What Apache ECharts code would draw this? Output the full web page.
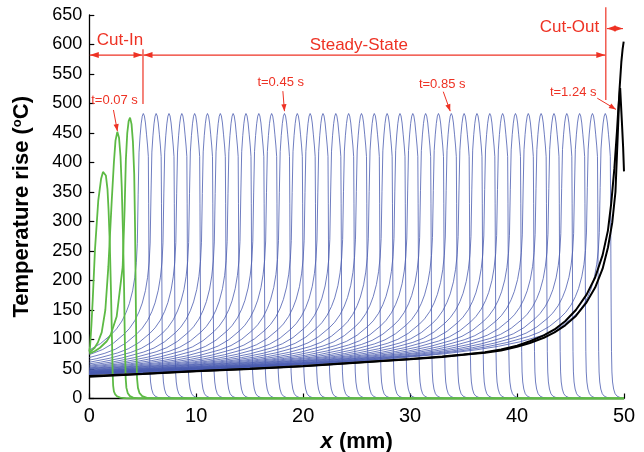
<!DOCTYPE html>
<html><head><meta charset="utf-8">
<script src="https://cdn.jsdelivr.net/npm/echarts@6/dist/echarts.min.js"></script>
<style>html,body{margin:0;padding:0;background:#fff}#c{width:644px;height:452px}</style>
</head><body><div id="c"></div>
<script>
// ---------- data ----------
const xTicks = [0, 10, 20, 30, 40, 50];
const yTicks = [0, 50, 100, 150, 200, 250, 300, 350, 400, 450, 500, 550, 600, 650];

// steady-state profiles: peak positions (mm)
const bluePeaks = [5.05, 6.25, 7.45, 8.65, 9.85, 11.05, 12.25, 13.45, 14.65, 15.85, 17.05, 18.25, 19.45, 20.65, 21.85, 23.05, 24.25, 25.45, 26.65, 27.85, 29.05, 30.25, 31.45, 32.65, 33.85, 35.05, 36.25, 37.45, 38.65, 39.85, 41.05, 42.25, 43.45, 44.65, 45.85, 47.05, 48.25];
// steady-state profile behind the peak: distance (mm) and excess temperature
const behindDist   = [0, 0.1, 0.2, 0.3, 0.4, 0.48, 0.56, 0.65, 0.8, 1.0, 1.3, 1.6, 2.0, 2.5, 3.0, 4.0, 5.0, 6.0, 8.0, 10, 12, 15, 20, 25, 30, 35, 40, 45, 50];
const behindExcess = [483, 478, 464, 442, 412, 335, 245, 210, 182, 158, 135, 119, 103, 89, 79, 63, 52, 45, 35.5, 29, 24.5, 20, 15.5, 12.8, 11, 9.7, 8.7, 7.9, 7.3];
// steady-state profile ahead of the peak
const aheadDist = [0.1, 0.2, 0.3, 0.4, 0.47, 0.5, 0.52, 0.55, 0.58, 0.62, 0.68, 0.78, 0.92, 1.1, 1.4, 1.8];
const aheadTemp = [479, 467, 448, 428, 410, 330, 250, 150, 80, 45, 28, 16, 8, 4, 1.5, 0];
// background trail left in the plate
const trailX    = [0, 10, 20, 30, 40, 50];
const trailTemp = [34, 40, 47, 55, 65, 76];

// cut-in profiles
const cutIn1X = [0, 0.07, 0.2, 0.32, 0.53, 0.84, 1.1, 1.28, 1.4, 1.55, 1.7, 1.8, 1.92, 2.03, 2.12, 2.18, 2.23, 2.3, 2.42, 2.6, 2.9, 3.4, 4.0, 50];
const cutIn1T = [80, 88, 125, 167, 252, 336, 372, 384, 386, 378, 355, 320, 260, 180, 100, 45, 22, 12, 7, 3.5, 1.5, 0.4, 0, 0];
const cutIn2X = [0, 0.5, 0.8, 1.16, 1.5, 1.78, 2.1, 2.3, 2.45, 2.62, 2.78, 2.92, 3.03, 3.15, 3.25, 3.33, 3.4, 3.47, 3.6, 3.8, 4.1, 4.6, 5.2, 50];
const cutIn2T = [78, 86, 95, 112, 150, 223, 336, 400, 437, 452, 442, 410, 360, 280, 190, 90, 35, 18, 9, 4, 1.5, 0.3, 0, 0];
const cutIn3X = [0, 0.5, 1.0, 1.63, 2.0, 2.56, 3.12, 3.3, 3.42, 3.55, 3.68, 3.81, 3.95, 4.08, 4.2, 4.28, 4.34, 4.4, 4.46, 4.55, 4.7, 4.95, 5.4, 6.0, 50];
const cutIn3T = [76, 80, 86, 97, 108, 139, 223, 320, 405, 450, 470, 476, 465, 435, 380, 290, 180, 80, 35, 18, 9, 4, 1.2, 0, 0];

// cut-out profiles
const cutOut1X = [0, 5, 10, 15, 20, 25, 30, 33, 35, 37, 38.5, 40, 41.2, 42.5, 43.5, 44.5, 45.5, 46.5, 47.3, 48, 48.5, 48.8, 49.1, 49.35, 49.5, 49.64, 49.8, 49.92, 50];
const cutOut1T = [38, 42, 46.5, 50.5, 55, 61, 67, 71, 74.5, 78.5, 83, 89.5, 97, 107, 117, 131, 150, 176, 205, 243, 285, 330, 390, 455, 500, 526, 470, 425, 385];
const cutOut2X = [0, 5, 10, 15, 20, 25, 30, 33, 35, 37, 38.5, 40, 41.2, 42.5, 43.5, 44.5, 45.5, 46.5, 47.3, 48, 48.5, 48.9, 49.2, 49.4, 49.58, 49.75, 49.87, 49.97];
const cutOut2T = [37, 41.5, 46, 50, 54.5, 60.5, 66.5, 70.5, 74, 77.5, 81.5, 87.5, 94, 103, 112, 124, 140, 163, 188, 220, 256, 298, 350, 440, 523, 570, 592, 605];

// ---------- helpers ----------
function lerp(xs, ys, x) {
  if (x <= xs[0]) return ys[0];
  for (let i = 1; i < xs.length; i++) {
    if (x <= xs[i]) { const t = (x - xs[i - 1]) / (xs[i] - xs[i - 1]); return ys[i - 1] + t * (ys[i] - ys[i - 1]); }
  }
  return ys[ys.length - 1];
}
function steadyCurve(xp) {
  const n0 = behindExcess[0];
  const temp = (x, d) => { const n = lerp(behindDist, behindExcess, d); return n + lerp(trailX, trailTemp, x) * (1 - n / n0); };
  const pts = [[0, temp(0, xp)]];
  for (let i = behindDist.length - 1; i >= 0; i--) {
    const x = xp - behindDist[i];
    if (x > 0) pts.push([x, temp(x, behindDist[i])]);
  }
  for (let i = 0; i < aheadDist.length; i++) {
    const x = xp + aheadDist[i];
    if (x <= 50) pts.push([x, aheadTemp[i]]);
  }
  pts.push([50, 0]);
  return pts;
}
const zip = (xs, ys) => xs.map((x, i) => [x, ys[i]]);

// ---------- chart ----------
const FONT = 'Liberation Sans, Arial, Helvetica, sans-serif';
const chart = echarts.init(document.getElementById('c'), null, { renderer: 'canvas' });
const series = [];
bluePeaks.forEach(xp => series.push({
  type: 'line', data: steadyCurve(xp), symbol: 'none', showSymbol: false, silent: true, z: 2,
  lineStyle: { color: '#4a5cb0', width: 0.8 }
}));
[[cutIn1X, cutIn1T], [cutIn2X, cutIn2T], [cutIn3X, cutIn3T]].forEach(([xs, ys]) => series.push({
  type: 'line', data: zip(xs, ys), symbol: 'none', showSymbol: false, silent: true, z: 3,
  lineStyle: { color: '#5dba45', width: 1.8 }
}));
[[cutOut1X, cutOut1T], [cutOut2X, cutOut2T]].forEach(([xs, ys]) => series.push({
  type: 'line', data: zip(xs, ys), symbol: 'none', showSymbol: false, silent: true, z: 4,
  lineStyle: { color: '#000000', width: 2 }
}));

chart.setOption({
  animation: false,
  backgroundColor: '#ffffff',
  grid: { left: 89.3, right: 20, top: 15, bottom: 53.5, containLabel: false, outerBoundsMode: 'none' },
  xAxis: {
    type: 'value', min: xTicks[0], max: xTicks[xTicks.length - 1], interval: xTicks[1] - xTicks[0],
    name: '{it|x} (mm)', nameLocation: 'middle', nameGap: 27,
    nameTextStyle: { fontFamily: FONT, fontSize: 22, fontWeight: 'bold', color: '#000',
      rich: { it: { fontFamily: FONT, fontSize: 22, fontWeight: 'bold', fontStyle: 'italic', color: '#000' } } },
    axisLine: { lineStyle: { color: '#000', width: 1.3 } },
    axisTick: { inside: true, length: 5, lineStyle: { color: '#000', width: 1.2 } },
    axisLabel: { fontFamily: FONT, fontSize: 20, color: '#000', margin: 8 },
    splitLine: { show: false }
  },
  yAxis: {
    type: 'value', min: yTicks[0], max: yTicks[yTicks.length - 1], interval: yTicks[1] - yTicks[0],
    name: 'Temperature rise ({sup|o}C)', nameLocation: 'middle', nameGap: 56,
    nameTextStyle: { fontFamily: FONT, fontSize: 22, fontWeight: 'bold', color: '#000',
      rich: { sup: { fontFamily: FONT, fontSize: 13, fontWeight: 'bold', color: '#000', verticalAlign: 'top', lineHeight: 22 } } },
    axisLine: { show: true, lineStyle: { color: '#000', width: 1.3 } },
    axisTick: { show: true, inside: true, length: 5, lineStyle: { color: '#000', width: 1.2 } },
    axisLabel: { fontFamily: FONT, fontSize: 18, color: '#000', margin: 7 },
    splitLine: { show: false }
  },
  series
});

// ---------- annotations ----------
const RED = '#ee3224';
const P = (x, y) => chart.convertToPixel({ gridIndex: 0 }, [x, y]);
const g = [];
function seg(a, b, w) { g.push({ type: 'line', shape: { x1: a[0], y1: a[1], x2: b[0], y2: b[1] }, style: { stroke: RED, lineWidth: w || 1.2 }, z: 100 }); }
function head(tip, from, len, half) {
  const dx = tip[0] - from[0], dy = tip[1] - from[1], L = Math.hypot(dx, dy) || 1;
  const ux = dx / L, uy = dy / L, bx = tip[0] - ux * len, by = tip[1] - uy * len;
  g.push({ type: 'polygon', shape: { points: [tip, [bx - uy * half, by + ux * half], [bx + uy * half, by - ux * half]] }, style: { fill: RED }, z: 100 });
}
function dbl(a, b) { seg(a, b); head(a, b, 9, 3); head(b, a, 9, 3); }
function arrow(a, b) { seg(a, b, 1); head(b, a, 7, 2.6); }
function label(p, txt, size) {
  g.push({ type: 'text', x: p[0], y: p[1], style: { text: txt, fill: RED, font: size + 'px ' + FONT, align: 'center', verticalAlign: 'middle' }, z: 100 });
}
const yA = 582;
const a0 = P(0, yA), a1 = P(5.02, yA), a2 = P(48.3, yA);
dbl([a0[0] + 0.5, a0[1]], [a1[0] - 0.5, a1[1]]);
dbl([a1[0] + 0.5, a1[1]], [a2[0] - 0.5, a2[1]]);
seg(P(5.02, 592), P(5.02, 499));
seg(P(48.3, 663), P(48.3, 506));
dbl(P(48.4, 627), P(49.9, 627));
label(P(2.87, 607), 'Cut-In', 17);
label(P(25.2, 599), 'Steady-State', 17);
label(P(44.9, 629), 'Cut-Out', 17);
label(P(2.36, 506), 't=0.07 s', 13);
arrow(P(2.26, 489), P(2.63, 453));
label(P(17.9, 536), 't=0.45 s', 13);
arrow(P(18.1, 521), P(18.25, 487));
label(P(33.0, 533), 't=0.85 s', 13);
arrow(P(33.1, 520), P(33.75, 487));
label(P(45.25, 519), 't=1.24 s', 13);
arrow(P(47.5, 509), P(49.25, 490));
chart.setOption({ graphic: g });
</script>
</body></html>
